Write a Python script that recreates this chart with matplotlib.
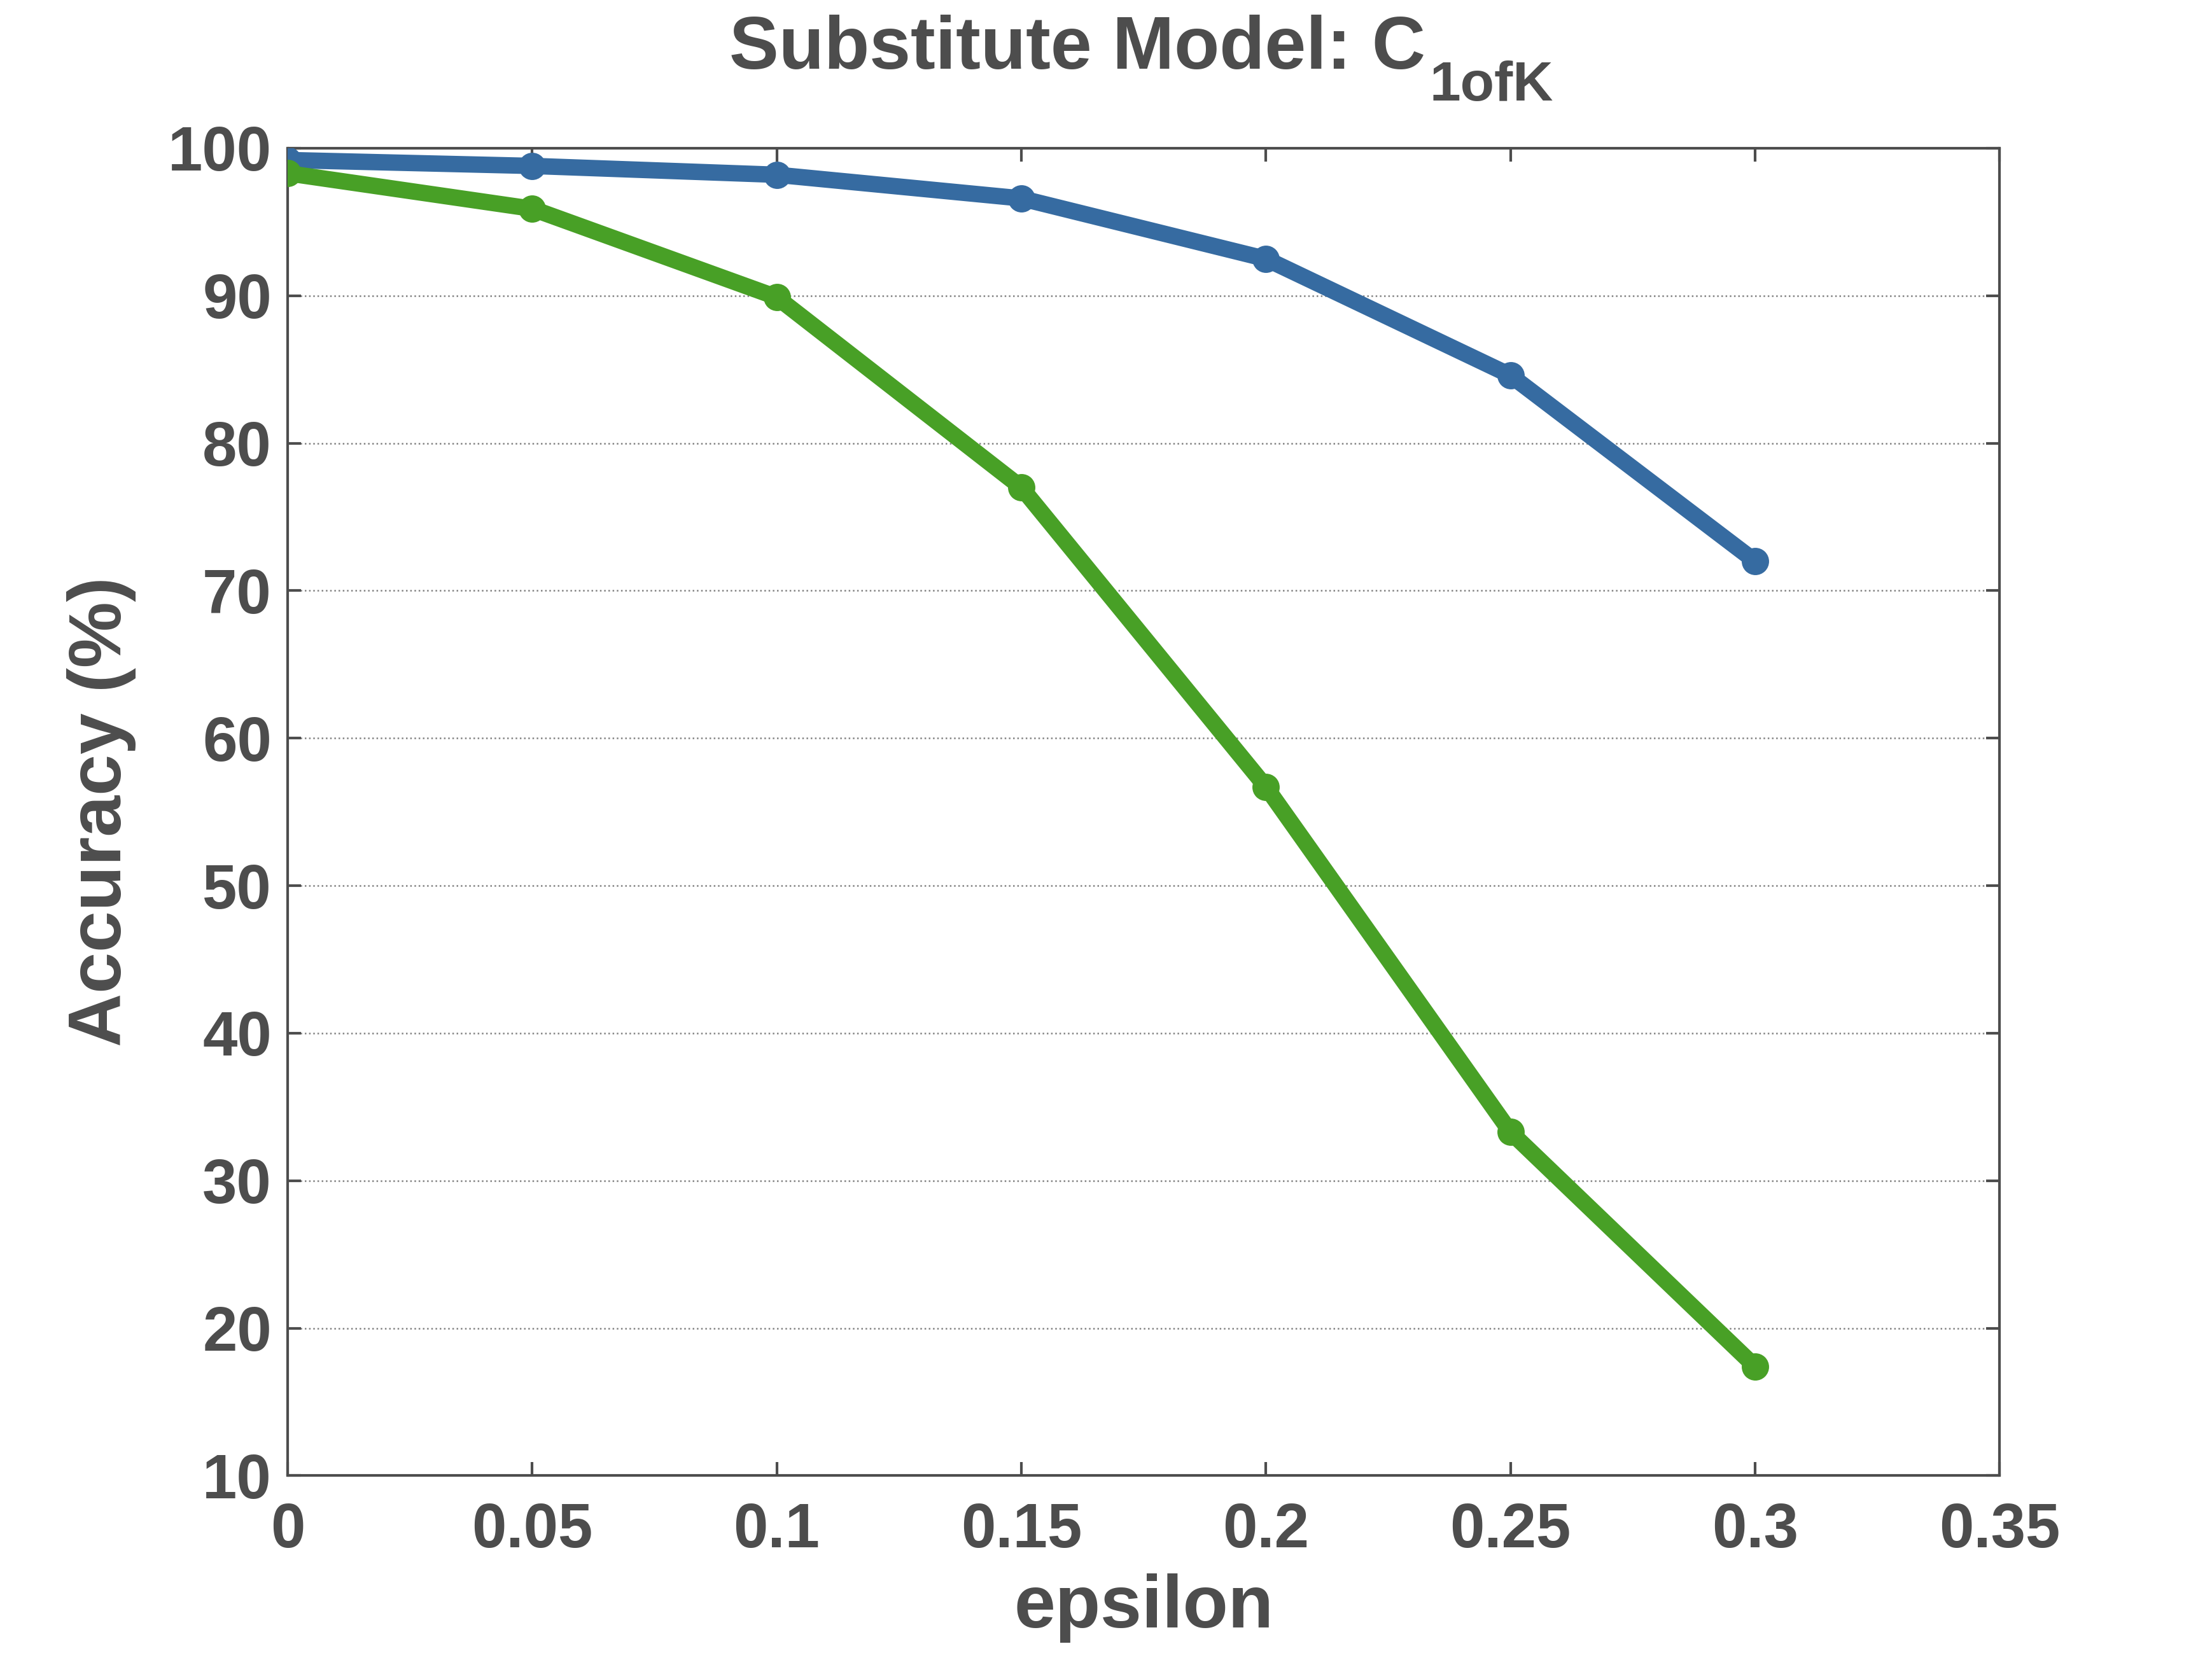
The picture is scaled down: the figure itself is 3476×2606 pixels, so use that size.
import numpy as np
import matplotlib.pyplot as plt

plt.rcParams['font.family'] = ['Liberation Sans', 'DejaVu Sans']
plt.rcParams['font.weight'] = 'bold'

# Data
epsilon = [0, 0.05, 0.1, 0.15, 0.2, 0.25, 0.3]
acc_blue = [99.2, 98.8, 98.2, 96.6, 92.5, 84.6, 72.0]
acc_green = [98.3, 95.9, 89.9, 77.0, 56.7, 33.3, 17.4]
xtick_vals = [0, 0.05, 0.1, 0.15, 0.2, 0.25, 0.3, 0.35]
xtick_labels = ['0', '0.05', '0.1', '0.15', '0.2', '0.25', '0.3', '0.35']
ytick_vals = [10, 20, 30, 40, 50, 60, 70, 80, 90, 100]

text_col = '#4d4d4d'
blue = '#366ba1'
green = '#48a026'

fig = plt.figure(figsize=(3476 / 300, 2606 / 300), dpi=300)
ax = fig.add_axes([0.130, 0.110, 0.774, 0.8006])

ax.plot(epsilon, acc_blue, color=blue, lw=6.2, marker='o', ms=9.3, zorder=3)
ax.plot(epsilon, acc_green, color=green, lw=6.2, marker='o', ms=9.3, zorder=3)

ax.set_xlim(0, 0.35)
ax.set_ylim(10, 100)
ax.set_xticks(xtick_vals)
ax.set_xticklabels(xtick_labels)
ax.set_yticks(ytick_vals)

ax.grid(axis='y', linestyle=':', color='#4d4d4d', lw=0.6, alpha=0.7)
ax.tick_params(direction='in', top=True, right=True, length=5, width=1,
               colors=text_col, labelsize=23.5)
ax.tick_params(axis='x', pad=10)
ax.tick_params(axis='y', pad=6)
for lab in ax.get_xticklabels() + ax.get_yticklabels():
    lab.set_fontweight('bold')
for s in ax.spines.values():
    s.set_color(text_col)
    s.set_linewidth(1)

ax.set_xlabel('epsilon', fontsize=28, fontweight='bold', color=text_col, labelpad=5)
ax.set_ylabel('Accuracy (%)', fontsize=28, fontweight='bold', color=text_col, labelpad=12)

# title with a lowered subscript, as in the original
fig.text(0.6444, 0.9586, 'Substitute Model: C', ha='right', va='baseline',
         fontsize=28, fontweight='bold', color=text_col)
fig.text(0.6462, 0.9394, '1ofK', ha='left', va='baseline',
         fontsize=21, fontweight='bold', color=text_col)

plt.savefig('out.png', dpi=300)
